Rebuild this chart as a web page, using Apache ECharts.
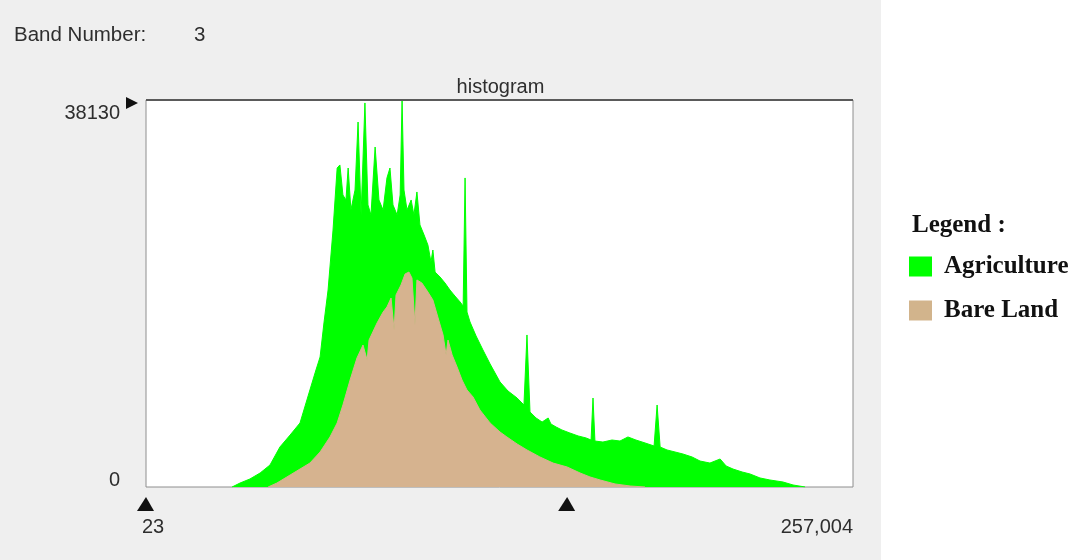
<!DOCTYPE html>
<html><head><meta charset="utf-8">
<script src="https://cdn.jsdelivr.net/npm/echarts@6/dist/echarts.min.js"></script>
<style>html,body{margin:0;padding:0;background:#fff;}#c{width:1077px;height:560px;}</style>
</head><body><div id="c"></div>
<script>
// ---- data ----
const bandNumber = '3';
const xMin = 23, xMax = 257004;
const yMin = 0, yMax = 38130;
const thresholdX = 153100;
const seriesNames = ['Agriculture', 'Bare Land'];

const agriX = [31300,34200,37800,41500,45100,48700,52400,56000,59600,61800,63300,64700,66200,68000,69500,70500,71600,72700,73500,74500,76000,77100,78200,79600,80700,81800,83300,84700,86200,87600,88700,89800,91300,92400,93100,93800,94900,96400,97400,98500,99600,101100,102500,103600,104300,105100,106900,108700,110500,112300,114200,115300,116000,116700,117800,120000,122500,125100,128700,131600,134900,137400,138500,139600,141800,144000,146200,147200,149100,151200,154100,157100,160000,161800,162500,163200,166100,169400,172300,175200,178100,181400,184700,185800,186900,189400,192300,195200,198500,201400,205000,208700,210900,213400,216700,219600,223200,226800,231600,235200,239600];
const agriY = [0,390,790,1380,2170,3940,5120,6310,9560,11530,12810,16160,19410,25320,31430,31730,28770,28280,31430,27290,29260,35960,26800,37840,27790,26800,33500,28280,27290,30450,31430,27790,26800,28770,38130,29260,27290,28280,26800,29070,25820,24830,23840,22170,23350,21180,20690,20100,19410,18820,18230,17830,30450,17240,16260,14880,13500,12120,10350,9460,8770,8080,14980,7390,6800,6400,6800,6210,5910,5620,5320,5030,4830,4630,8770,4530,4430,4630,4530,4930,4630,4340,4040,8080,3940,3650,3450,3250,2960,2560,2360,2760,2070,1770,1480,1280,890,690,490,200,0];

const bareX = [44400,47600,52400,56000,59600,63300,66900,69500,71600,74200,76700,78900,80400,81100,84000,86200,87600,89100,90200,90900,92700,94200,95600,96700,97800,98500,100300,102500,104300,106200,108000,109100,109800,111300,113100,114900,116700,118900,121400,125100,128700,131200,134900,138500,143200,148000,153100,157800,161400,165100,170500,176000,181400];
const bareY = [0,390,1180,1770,2360,3450,4930,6310,8080,10540,12710,13990,12510,14480,16160,17240,17740,18620,15470,18920,19900,20990,21180,20590,15960,20400,20100,19210,18430,16650,14980,13010,14480,13010,11820,10540,9560,8870,7590,6310,5420,4930,4240,3650,2960,2360,1970,1380,990,690,300,100,0];

// ---- chart ----
const GREEN = '#00ff00', TAN = '#d6b38f', TAN_LEG = '#d2b48c';
const sansFont = '"Liberation Sans", Arial, sans-serif';
const serifFont = '"Liberation Serif", "Times New Roman", serif';
const zip = (xs, ys) => xs.map((x, i) => [x, ys[i]]);

const chart = echarts.init(document.getElementById('c'), null, {renderer: 'canvas'});

const option = {
  animation: false,
  backgroundColor: '#ffffff',
  grid: {left: 146, top: 100, right: 224, bottom: 73, show: true,
         backgroundColor: '#ffffff', borderColor: '#8e8e8e', borderWidth: 1},
  xAxis: {type: 'value', min: xMin, max: xMax, axisLine: {show: false},
          axisTick: {show: false}, axisLabel: {show: false}, splitLine: {show: false}},
  yAxis: {type: 'value', min: yMin, max: yMax, axisLine: {show: false},
          axisTick: {show: false}, axisLabel: {show: false}, splitLine: {show: false}},
  legend: {
    orient: 'vertical', left: 909, top: 254, padding: 0, itemWidth: 23, itemHeight: 20, itemGap: 19,
    icon: 'rect', selectedMode: false,
    textStyle: {fontFamily: serifFont, fontWeight: 'bold', fontSize: 25, color: '#111',
                padding: [0, 0, 0, 7]},
    data: [
      {name: seriesNames[0], itemStyle: {color: GREEN}},
      {name: seriesNames[1], itemStyle: {color: TAN_LEG}}
    ]
  },
  series: [
    {name: seriesNames[0], type: 'line', data: zip(agriX, agriY), symbol: 'none',
     lineStyle: {width: 1, color: GREEN}, itemStyle: {color: GREEN},
     areaStyle: {color: GREEN, opacity: 1}, z: 2},
    {name: seriesNames[1], type: 'line', data: zip(bareX, bareY), symbol: 'none',
     lineStyle: {width: 1, color: TAN}, itemStyle: {color: TAN},
     areaStyle: {color: TAN, opacity: 1}, z: 3}
  ]
};
chart.setOption(option);

const p0 = chart.convertToPixel({gridIndex: 0}, [xMin, yMin]);
const p1 = chart.convertToPixel({gridIndex: 0}, [xMax, yMax]);
const pt = chart.convertToPixel({gridIndex: 0}, [thresholdX, yMin]);
const x0 = p0[0], y0 = p0[1], x1 = p1[0], y1 = p1[1], xt = pt[0];

const txt = (text, x, y, align, vAlign, extra) => Object.assign({
  type: 'text', x: x, y: y, silent: true, z: 10,
  style: Object.assign({text: text, fill: '#2e2e2e', font: '20px ' + sansFont,
                        align: align, verticalAlign: vAlign}, extra || {})
});
const tri = (pts) => ({type: 'polygon', silent: true, z: 10, shape: {points: pts}, style: {fill: '#111'}});

chart.setOption({
  graphic: [
    {type: 'rect', silent: true, z: -10, shape: {x: 0, y: 0, width: 881, height: 560}, style: {fill: '#efefef'}},
    txt('Band Number:', 14, 35, 'left', 'middle', {font: '20.5px ' + sansFont}),
    txt(bandNumber, 194, 35, 'left', 'middle', {font: '20.5px ' + sansFont}),
    txt('histogram', (x0 + x1) / 2 + 1, 87, 'center', 'middle'),
    {type: 'line', silent: true, z: 9, shape: {x1: x0, y1: y1, x2: x1, y2: y1},
     style: {stroke: '#5a5a5a', lineWidth: 2}},
    txt(String(yMax), x0 - 26, y1 + 3, 'right', 'top'),
    tri([[x0 - 20, y1 - 3], [x0 - 8, y1 + 3], [x0 - 20, y1 + 9]]),
    txt(String(yMin), x0 - 26, y0 + 3, 'right', 'bottom'),
    tri([[x0, y0 + 10], [x0 + 8, y0 + 24], [x0 - 9, y0 + 24]]),
    tri([[xt, y0 + 10], [xt + 8, y0 + 24], [xt - 9, y0 + 24]]),
    txt(String(xMin), x0 - 4, y0 + 40, 'left', 'middle'),
    txt(xMax.toLocaleString('en-US'), x1, y0 + 40, 'right', 'middle'),
    txt('Legend :', 912, 226, 'left', 'middle', {font: 'bold 25px ' + serifFont, fill: '#111'})
  ]
});
</script></body></html>
